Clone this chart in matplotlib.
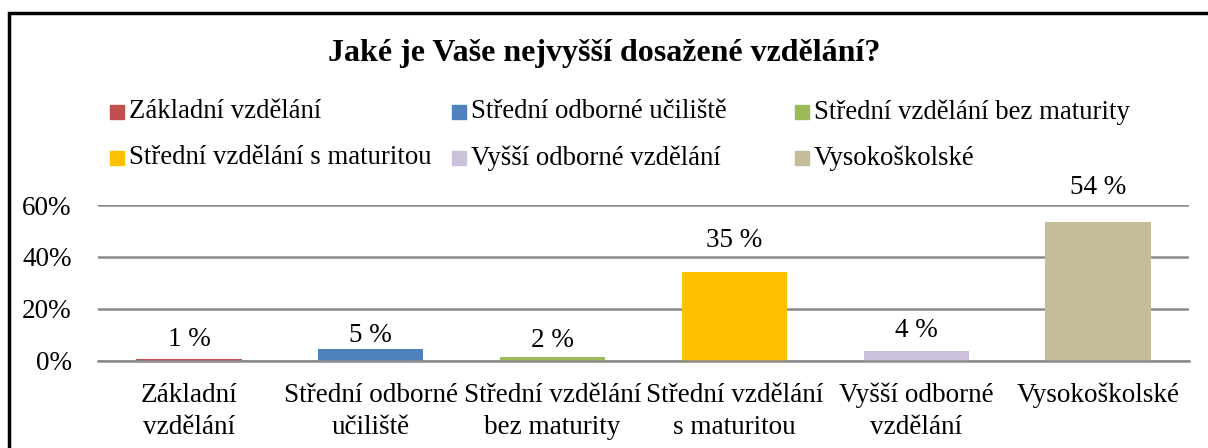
import matplotlib
matplotlib.use("Agg")
import matplotlib.pyplot as plt
from matplotlib.patches import Rectangle
from matplotlib.ticker import PercentFormatter

categories = [
    "Základní vzdělání",
    "Střední odborné učiliště",
    "Střední vzdělání bez maturity",
    "Střední vzdělání s maturitou",
    "Vyšší odborné vzdělání",
    "Vysokoškolské",
]
tick_labels = [
    "Základní\nvzdělání",
    "Střední odborné\nučiliště",
    "Střední vzdělání\nbez maturity",
    "Střední vzdělání\ns maturitou",
    "Vyšší odborné\nvzdělání",
    "Vysokoškolské",
]
shares = [0.007, 0.044, 0.013, 0.343, 0.039, 0.534]
share_labels = ["1 %", "5 %", "2 %", "35 %", "4 %", "54 %"]
colors = ["#C0504D", "#4F81BD", "#9BBB59", "#FFC000", "#CCC1DA", "#C4BD97"]

# label gap above each bar, pixels (the source placed them unevenly)
label_gap = [19, 14, 17, 31, 20, 35]

plt.rcParams["font.family"] = ["Liberation Serif", "DejaVu Serif"]

W, H = 1208, 448
fig = plt.figure(figsize=(W / 100, H / 100), dpi=100)
ax = fig.add_axes([98 / W, 1 - 360.7 / H, (1189 - 98) / W, (360.7 - 205) / H])

x = range(len(categories))
ax.bar(x, shares, width=0.58, color=colors, zorder=3)
for i, (v, lab) in enumerate(zip(shares, share_labels)):
    ax.annotate(lab, (i, v), xytext=(0, label_gap[i]), textcoords="offset pixels",
                ha="center", va="center", fontsize=19.5)

ax.set_xlim(-0.5, len(categories) - 0.5)
ax.set_ylim(0, 0.6)
ax.set_yticks([0, 0.2, 0.4, 0.6])
ax.yaxis.set_major_formatter(PercentFormatter(1.0, decimals=0))
ax.set_xticks(list(x))
ax.set_xticklabels(tick_labels, fontsize=19.5, linespacing=1.35)
ax.tick_params(axis="x", length=0, pad=16)
ax.tick_params(axis="y", length=0, pad=19, labelsize=19.5)
ax.grid(axis="y", color="#8C8C8C", linewidth=1.8, zorder=0)
for s in ["top", "right", "left"]:
    ax.spines[s].set_visible(False)
ax.spines["bottom"].set_color("#8C8C8C")
ax.spines["bottom"].set_linewidth(1.8)
ax.spines["bottom"].set_zorder(4)

fig.text(0.5, 1 - 53 / H, "Jaké je Vaše nejvyšší dosažené vzdělání?",
         ha="center", va="center", fontsize=23, fontweight="bold")

# legend laid out row by row, three columns
col_x = [110, 452, 795]
row_y = [112, 158]
for i, (name, c) in enumerate(zip(categories, colors)):
    cx = col_x[i % 3]
    cy = row_y[i // 3]
    fig.patches.append(Rectangle((cx / W, 1 - (cy + 7) / H), 14 / W, 14 / H,
                                 transform=fig.transFigure, color=c))
    fig.text((cx + 19) / W, 1 - cy / H, name, ha="left", va="center", fontsize=19.3)

# outer frame
fig.patches.append(Rectangle((9 / W, -0.2), 1.2, 1.2 - 13 / H, transform=fig.transFigure,
                             fill=False, edgecolor="black", linewidth=2.5))

fig.savefig("out.png", dpi=100)
